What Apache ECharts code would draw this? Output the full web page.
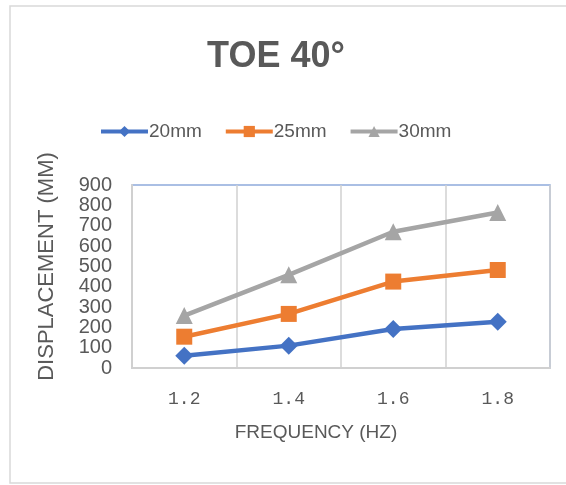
<!DOCTYPE html>
<html><head><meta charset="utf-8">
<script src="https://cdn.jsdelivr.net/npm/echarts@6/dist/echarts.min.js"></script>
<style>html,body{margin:0;padding:0;background:#fff}#c{width:566px;height:485px}</style>
</head><body><div id="c"></div>
<script>
const categories = ['1.2', '1.4', '1.6', '1.8'];
const s20 = [60, 110, 192, 228];
const s25 = [154, 266, 425, 482];
const s30 = [258, 458, 670, 765];
const seriesNames = ['20mm', '25mm', '30mm'];

const chart = echarts.init(document.getElementById('c'));
const txt = '#595959';
function mk(name, data, color, symbol, size) {
  return {name, type: 'line', data, symbol, symbolSize: size,
    lineStyle: {color, width: 4.5}, itemStyle: {color}, color};
}
chart.setOption({
  animation: false,
  title: [
    {text: 'TOE 40°', left: 271, textAlign: 'center', top: 34,
     textStyle: {fontFamily: 'Liberation Sans', fontSize: 36, fontWeight: 'bold', color: txt}},
    {text: 'FREQUENCY (HZ)', left: 311, textAlign: 'center', top: 418,
     textStyle: {fontFamily: 'Liberation Sans', fontSize: 19, fontWeight: 'normal', color: txt}}
  ],
  legend: {left: 94, top: 117, itemWidth: 47, itemHeight: 14, itemGap: 22,
    lineStyle: {width: 4},
    textStyle: {fontFamily: 'Liberation Sans', fontSize: 19, color: txt, padding: [0,0,0,-4]},
    data: seriesNames},
  grid: {left: 132, right: 16, top: 185, bottom: 117, show: true,
    borderColor: '#8eaadb', borderWidth: 1.5, backgroundColor: '#fff'},
  xAxis: {type: 'category', data: categories, boundaryGap: true,
    axisLine: {lineStyle: {color: '#d0d0d0', width: 2}},
    axisTick: {show: false},
    splitLine: {show: true, lineStyle: {color: '#d0d0d0', width: 1.5}},
    axisLabel: {fontFamily: 'Liberation Mono', fontSize: 18, color: txt, margin: 22}},
  yAxis: {type: 'value', min: 0, max: 900, interval: 100,
    name: 'DISPLACEMENT (MM)', nameLocation: 'middle', nameGap: 74,
    nameTextStyle: {fontFamily: 'Liberation Sans', fontSize: 22, color: txt, padding: [0,0,0,20]},
    axisLine: {show: true, lineStyle: {color: '#d0d0d0', width: 2}},
    axisTick: {show: false}, splitLine: {show: false},
    axisLabel: {fontFamily: 'Liberation Sans', fontSize: 20, color: txt, margin: 20, lineHeight: 16}},
  series: [
    mk(seriesNames[0], s20, '#4472c4', 'diamond', 18),
    mk(seriesNames[1], s25, '#ed7d31', 'rect', 16),
    mk(seriesNames[2], s30, '#a5a5a5', 'triangle', 17)
  ],
  graphic: [{type: 'polyline', silent: true, z: -1,
    shape: {points: [[566, 6], [10, 6], [10, 483], [566, 483]]},
    style: {stroke: '#d9d9d9', lineWidth: 1.5, fill: null}}]
});
</script></body></html>
